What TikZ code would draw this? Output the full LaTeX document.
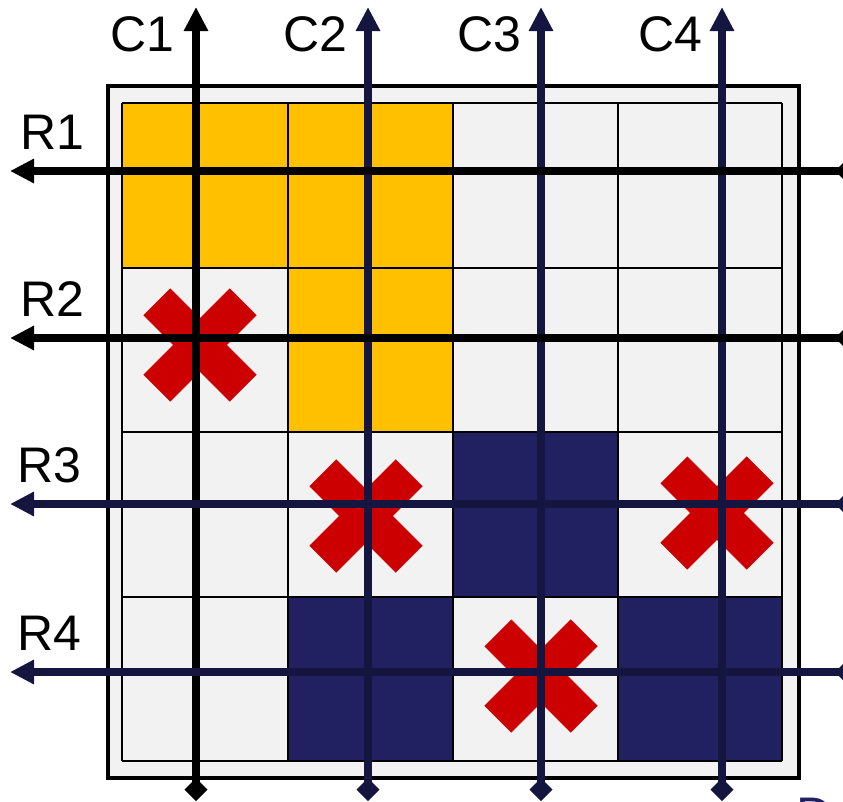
\documentclass[tikz,border=0pt]{standalone}
\usepackage{fontspec}
\setmainfont{Liberation Sans}
\usetikzlibrary{arrows.meta}
\definecolor{cellgray}{HTML}{F2F2F2}
\definecolor{goldc}{HTML}{FFC000}
\definecolor{navyc}{HTML}{212162}
\definecolor{scanc}{HTML}{15163F}
\definecolor{crossc}{HTML}{CC0000}
\tikzset{
  board/.style={fill=cellgray, draw=black, line width=4pt},
  cellline/.style={draw=black, line width=2pt},
  scan/.style={line width=7.5pt, {Diamond[length=23pt,width=23pt]}-{Triangle[length=24pt,width=23pt]}},
  lbl/.style={font=\fontsize{50}{60}\selectfont, inner sep=0pt, anchor=base west},
  redx/.pic={
    \fill[crossc, rotate=45] (-61,-19) rectangle (61,19);
    \fill[crossc, rotate=-45] (-61,-19) rectangle (61,19);
  },
}
\begin{document}
\begin{tikzpicture}[x=1pt,y=-1pt]
\useasboundingbox (0,0) rectangle (843,801);
% board and cells
\draw[board] (107.5,86) rectangle (798.5,777.5);
\fill[goldc] (122,103) rectangle (288,268);
\fill[goldc] (288,103) rectangle (453,268);
\fill[goldc] (288,268) rectangle (453,432);
\fill[navyc] (453,432) rectangle (618,597);
\fill[navyc] (288,597) rectangle (453,761);
\fill[navyc] (618,597) rectangle (782,761);
\foreach \gx in {122,288,453,618,782} \draw[cellline] (\gx,103) -- (\gx,761);
\foreach \gy in {103,268,432,597,761} \draw[cellline] (122,\gy) -- (782,\gy);
% conflicts
\pic at (200,345) {redx};
\pic at (366,516) {redx};
\pic at (717,513) {redx};
\pic at (541,676) {redx};
% column scans
\coordinate (c1s) at (196,801); \coordinate (c1e) at (196,7);
\coordinate (c2s) at (368,801); \coordinate (c2e) at (368,7);
\coordinate (c3s) at (541,801); \coordinate (c3e) at (541,7);
\coordinate (c4s) at (722,801); \coordinate (c4e) at (722,7);
\draw[scan, black] (c1s) -- (c1e);
\draw[scan, scanc] (c2s) -- (c2e);
\draw[scan, scanc] (c3s) -- (c3e);
\draw[scan, scanc] (c4s) -- (c4e);
% row scans
\coordinate (r1s) at (858,171); \coordinate (r1e) at (10,171);
\coordinate (r2s) at (858,338); \coordinate (r2e) at (10,338);
\coordinate (r3s) at (858,504); \coordinate (r3e) at (10,504);
\coordinate (r4s) at (858,672); \coordinate (r4e) at (10,672);
\draw[scan, black] (r1s) -- (r1e);
\draw[scan, black] (r2s) -- (r2e);
\draw[scan, scanc] (r3s) -- (r3e);
\draw[scan, scanc] (r4s) -- (r4e);
% labels
\node[lbl] (lc1) at (110,51) {C1};
\node[lbl] (lc2) at (283,51) {C2};
\node[lbl] (lc3) at (457,51) {C3};
\node[lbl] (lc4) at (638,51) {C4};
\node[lbl] (lr1) at (20,149) {R1};
\node[lbl] (lr2) at (20,316) {R2};
\node[lbl] (lr3) at (17,482) {R3};
\node[lbl] (lr4) at (17,650) {R4};
\node[lbl, text=navyc] (lcut) at (796,832) {D};
\end{tikzpicture}
\end{document}
